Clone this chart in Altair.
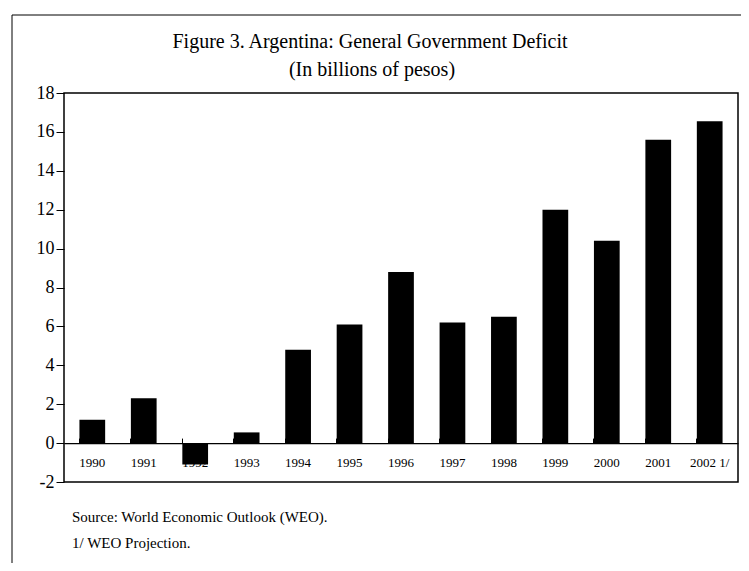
import altair as alt
import pandas as pd

years = ["1990", "1991", "1992", "1993", "1994", "1995", "1996",
         "1997", "1998", "1999", "2000", "2001", "2002"]
labels = ["1990", "1991", "1992", "1993", "1994", "1995", "1996",
          "1997", "1998", "1999", "2000", "2001", "2002 1/"]
deficit = [1.2, 2.3, -1.1, 0.55, 4.8, 6.1, 8.8, 6.2, 6.5, 12.0, 10.4, 15.6, 16.55]
y_ticks = [-2, 0, 2, 4, 6, 8, 10, 12, 14, 16, 18]

title_line = ["Figure 3. Argentina: General Government Deficit"]
subtitle_line = ["(In billions of pesos)"]
source_line = ["Source: World Economic Outlook (WEO)."]
footnote_line = ["1/ WEO Projection."]

df = pd.DataFrame({"year": years, "label": labels, "value": deficit,
                   "labelpos": [-1.0] * len(years)})

W, H = 674, 389
FONT = "Liberation Serif"

xscale = alt.Scale(domain=years, paddingInner=0.5, paddingOuter=0.3)
yscale = alt.Scale(domain=[-2, 18], nice=False, zero=False)

x_axis = alt.Axis(orient="top", offset=-(H * 18 / 20), labels=False,
                  title=None, bandPosition=0, tickSize=5,
                  tickColor="black", domainColor="black",
                  domainWidth=1.2, tickWidth=1, grid=False)
y_axis = alt.Axis(values=y_ticks, title=None, tickCount=11,
                  tickSize=8, tickColor="black", domain=False,
                  labelFont=FONT, labelFontSize=18, labelColor="black",
                  labelPadding=2, labelOverlap=False, grid=False,
                  labelExpr="datum.value")

base = alt.Chart(df)

bars = base.mark_bar(color="black").encode(
    x=alt.X("year:N", scale=xscale, axis=x_axis),
    y=alt.Y("value:Q", scale=yscale, axis=y_axis),
    y2=alt.datum(0),
)

xlabels = base.mark_text(font=FONT, fontSize=13, color="black", baseline="middle").encode(
    x=alt.X("year:N", scale=xscale, axis=x_axis),
    y=alt.Y("labelpos:Q", scale=yscale, axis=y_axis),
    text="label:N",
)


def text_layer(lines, x, y, size, align):
    return alt.Chart(pd.DataFrame({"t": lines})).mark_text(
        font=FONT, fontSize=size, color="black", align=align, baseline="middle"
    ).encode(x=alt.value(x), y=alt.value(y), text="t:N")


t1 = text_layer(title_line, 306, -51, 20, "center")
t2 = text_layer(subtitle_line, 308, -23, 20, "center")
note1 = text_layer(source_line, 8, H + 35, 15, "left")
note2 = text_layer(footnote_line, 8, H + 61, 15, "left")

one = pd.DataFrame({"a": [0]})
frame_left = alt.Chart(one).mark_rule(color="black", strokeWidth=1).encode(
    x=alt.value(-52), y=alt.value(-78), y2=alt.value(H + 90))
frame_top = alt.Chart(one).mark_rule(color="black", strokeWidth=1).encode(
    x=alt.value(-52), x2=alt.value(681), y=alt.value(-78))
frame_right = alt.Chart(one).mark_rule(color="black", strokeWidth=1).encode(
    x=alt.value(681), y=alt.value(-78), y2=alt.value(40))

chart = alt.layer(bars, xlabels, t1, t2, note1, note2,
                  frame_left, frame_top, frame_right).properties(
    width=W, height=H,
    background="white",
    autosize=alt.AutoSizeParams(type="none"),
    padding={"left": 56, "top": 85, "right": 3, "bottom": 81},
).configure_view(stroke="black", strokeWidth=1.5)

chart.save("out.html", embed_options={"renderer": "svg", "actions": False})
